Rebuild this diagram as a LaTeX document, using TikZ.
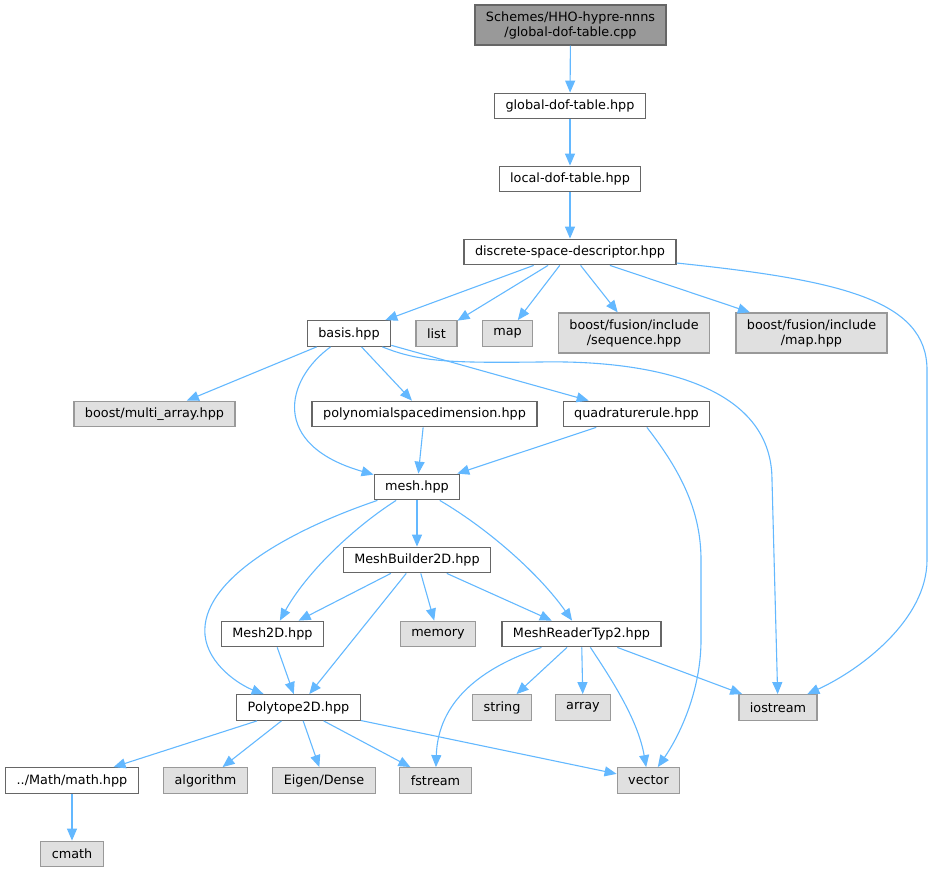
\documentclass[tikz,border=0pt]{standalone}
\usepackage{fontspec}
\setmainfont{DejaVu Sans}
\usepackage{tikz}
\usetikzlibrary{arrows.meta,positioning}
\definecolor{edgeblue}{HTML}{63B8FF}
\definecolor{boxline}{HTML}{666666}
\definecolor{sysline}{HTML}{999999}
\definecolor{sysfill}{HTML}{E0E0E0}
\definecolor{rootfill}{HTML}{999999}
\tikzset{
    %Define standard arrow tip
    >={Triangle[length=12pt,width=10pt]},
    %Define style for boxes
    documented/.style={
           rectangle,
           draw=boxline, line width=1.3pt,
           minimum height=25.5pt,
           inner xsep=11pt,
           inner ysep=0pt,
           font=\fontsize{12.8}{15}\selectfont,
           text=black,
           align=center,
           fill=white},
    external/.style={
           documented,
           draw=sysline,
           fill=sysfill},
    rootfile/.style={
           documented,
           minimum height=40pt,
           fill=rootfill},
    % Define arrow style
    dep/.style={
           ->,
           draw,
           color=edgeblue,
           line width=1.1pt}
}

\begin{document}
\begin{tikzpicture}[x=1pt,y=-1pt,main node/.style={documented}, sys node/.style={external}]
\useasboundingbox (0,0) rectangle (934,872);
\node[rootfile](root) at (570.5,25){Schemes/HHO-hypre-nnns\\/global-dof-table.cpp};
\node[main node](glob) at (570,106){global-dof-table.hpp};
\node[main node](loc) at (570,179){local-dof-table.hpp};
\node[main node](dsd) at (570,252){discrete-space-descriptor.hpp};
\node[main node](basis) at (349,333.5){basis.hpp};
\node[sys node](list) at (436.5,333.5){list};
\node[sys node](map) at (507.5,333.5){map};
\node[sys node, minimum height=40pt](fseq) at (634,333){boost/fusion/include\\/sequence.hpp};
\node[sys node, minimum height=40pt](fmap) at (811.5,333){boost/fusion/include\\/map.hpp};
\node[sys node](marr) at (154.5,414){boost/multi\_array.hpp};
\node[main node](psd) at (424.5,414){polynomialspacedimension.hpp};
\node[main node](quad) at (636.5,414){quadraturerule.hpp};
\node[main node](mesh) at (417,487){mesh.hpp};
\node[main node](mb2d) at (417,560){MeshBuilder2D.hpp};
\node[main node](m2d) at (272.5,634){Mesh2D.hpp};
\node[sys node](mem) at (438,634){memory};
\node[main node](mrt2) at (581.5,634){MeshReaderTyp2.hpp};
\node[main node](p2d) at (298.5,707.5){Polytope2D.hpp};
\node[sys node](str) at (502,707.5){string};
\node[sys node](arr) at (583,707.5){array};
\node[sys node](iostr) at (778,707.5){iostream};
\node[main node](math) at (72,780.5){../Math/math.hpp};
\node[sys node](algo) at (205.5,780.5){algorithm};
\node[sys node](eig) at (324,780.5){Eigen/Dense};
\node[sys node](fstr) at (435.5,780.5){fstream};
\node[sys node](vec) at (648.5,780.5){vector};
\node[sys node](cmath) at (72,854){cmath};
\path[dep]
    (root) edge (glob)
    (glob) edge (loc)
    (loc) edge (dsd)
    (dsd) edge (basis)
    (dsd) edge (list)
    (dsd) edge (map)
    (dsd) edge (fseq)
    (dsd) edge (fmap)
    (basis) edge (marr)
    (basis) edge (psd)
    (basis) edge (quad)
    (psd) edge (mesh)
    (quad) edge (mesh)
    (mesh) edge (mb2d)
    (mb2d) edge (m2d)
    (mb2d) edge (p2d)
    (mb2d) edge (mem)
    (mb2d) edge (mrt2)
    (m2d) edge (p2d)
    (mrt2) edge (str)
    (mrt2) edge (arr)
    (mrt2) edge (iostr)
    (p2d) edge (math)
    (p2d) edge (algo)
    (p2d) edge (eig)
    (p2d) edge (fstr)
    (p2d) edge (vec)
    (math) edge (cmath);
% curved dependencies
\draw[dep] (dsd) .. controls (840,280) and (927,300) .. (927,370) -- (927,560)
    .. controls (927,620) and (860,670) .. (iostr);
\draw[dep] (basis) .. controls (420,362) and (450,363) .. (540,362)
    .. controls (640,360) and (772,380) .. (772,480) -- (iostr);
\draw[dep] (basis) .. controls (285,380) and (270,445) .. (mesh);
\draw[dep] (quad) .. controls (680,470) and (701,510) .. (701,560) -- (701,640)
    .. controls (701,690) and (680,735) .. (vec);
\draw[dep] (mesh) .. controls (290,530) and (200,580) .. (205,635)
    .. controls (208,665) and (240,685) .. (p2d);
\draw[dep] (mesh) .. controls (350,530) and (305,575) .. (m2d);
\draw[dep] (mesh) .. controls (490,530) and (540,575) .. (mrt2);
\draw[dep] (mrt2) .. controls (480,668) and (438,702) .. (fstr);
\draw[dep] (mrt2) .. controls (612,680) and (638,720) .. (vec);
\end{tikzpicture}
\end{document}
